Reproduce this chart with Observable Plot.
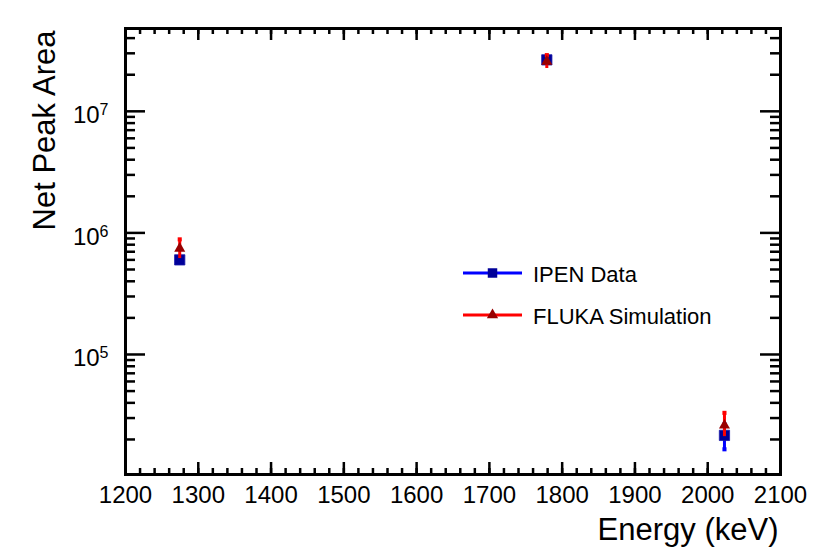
<!DOCTYPE html>
<html><head><meta charset="utf-8">
<script src="https://cdn.jsdelivr.net/npm/d3@7"></script>
<script src="https://cdn.jsdelivr.net/npm/@observablehq/plot@0.6"></script>
<style>
body{margin:0;background:#fff;font-family:"Liberation Sans",Arial,sans-serif;}
#wrap{position:relative;width:822px;height:560px;}
</style></head><body><div id="wrap"></div>
<script>
// ---- data ----
const energy = [1274.5, 1778.9, 2023];
const ipenArea = [6.0e5, 2.65e7, 2.16e4];
const ipenErr = [2.0e4, 8.0e5, 5.0e3];
const flukaArea = [7.45e5, 2.57e7, 2.61e4];
const flukaErrLow = [1.3e5, 3.2e6, 5.0e3];
const flukaErrHigh = [1.4e5, 3.3e6, 7.0e3];
const seriesNames = ["IPEN Data", "FLUKA Simulation"];
const xTickLabels = [1200, 1300, 1400, 1500, 1600, 1700, 1800, 1900, 2000, 2100];
const yTickLabels = [1e5, 1e6, 1e7];
const xTitle = "Energy (keV)";
const yTitle = "Net Peak Area";

// ---- layout ----
const W = 822, H = 560;
const mL = 125, mR = 42, mT = 28, mB = 86;
const pw = W - mL - mR, ph = H - mT - mB;
const yDomain = [1.03e4, 4.8e7];
const xMinor = d3.range(1200, 2101, 20);
const yMinor = [];
for (let e = 4; e <= 7; e++) for (let m = 2; m <= 9; m++) {
  const v = m * 10 ** e; if (v >= yDomain[0] && v <= yDomain[1]) yMinor.push(v);
}
const idx = energy.map((_, i) => i);
const font = "Liberation Sans, Arial, Helvetica, sans-serif";
const tw = 2.5;

const chart = Plot.plot({
  width: W, height: H,
  marginLeft: mL, marginRight: mR, marginTop: mT, marginBottom: mB,
  style: {fontFamily: font, background: "white", color: "black"},
  x: {domain: [1200, 2100]},
  y: {type: "log", domain: yDomain},
  marks: [
    // tick marks (inward, ROOT style)
    Plot.tickX(xTickLabels, {x: d => d, stroke: "black", strokeWidth: tw, insetTop: ph - 12}),
    Plot.tickX(xMinor, {x: d => d, stroke: "black", strokeWidth: tw, insetTop: ph - 6}),
    Plot.tickX(xTickLabels, {x: d => d, stroke: "black", strokeWidth: tw, insetBottom: ph - 12}),
    Plot.tickX(xMinor, {x: d => d, stroke: "black", strokeWidth: tw, insetBottom: ph - 6}),
    Plot.tickY(yTickLabels, {y: d => d, stroke: "black", strokeWidth: tw, insetRight: pw - 20}),
    Plot.tickY(yMinor, {y: d => d, stroke: "black", strokeWidth: tw, insetRight: pw - 10}),
    Plot.tickY(yTickLabels, {y: d => d, stroke: "black", strokeWidth: tw, insetLeft: pw - 20}),
    Plot.tickY(yMinor, {y: d => d, stroke: "black", strokeWidth: tw, insetLeft: pw - 10}),
    Plot.axisX({ticks: xTickLabels, tickSize: 0, tickPadding: 11, fontSize: 24, tickFormat: d3.format("d"), label: null}),
    Plot.axisY({ticks: yTickLabels, tickSize: 0, tickPadding: 17, fontSize: 24, dy: 4, tickFormat: d => "10^" + Math.round(Math.log10(d)), label: null}),
    Plot.frame({stroke: "black", strokeWidth: 3}),
    // axis titles
    Plot.text([xTitle], {text: d => d, frameAnchor: "bottom-right", textAnchor: "end", fontSize: 31, dx: -2, dy: 65}),
    Plot.text([yTitle], {text: d => d, frameAnchor: "top-left", textAnchor: "end", rotate: -90, fontSize: 31, dx: -93, dy: 2}),
    // IPEN data
    Plot.ruleX(idx, {x: i => energy[i], y1: i => ipenArea[i] - ipenErr[i], y2: i => ipenArea[i] + ipenErr[i], stroke: "#0000ff", strokeWidth: 3}),
    Plot.dot(idx, {x: i => energy[i], y: i => ipenArea[i] - ipenErr[i], symbol: "square", r: 2.3, fill: "#0000ff"}),
    Plot.dot(idx, {x: i => energy[i], y: i => ipenArea[i] + ipenErr[i], symbol: "square", r: 2.3, fill: "#0000ff"}),
    Plot.dot(idx, {x: i => energy[i], y: i => ipenArea[i], symbol: "square", r: 5.8, fill: "#000099", stroke: "#1a1aaa", strokeWidth: 0.8}),
    // FLUKA simulation
    Plot.ruleX(idx, {x: i => energy[i], y1: i => flukaArea[i] - flukaErrLow[i], y2: i => flukaArea[i] + flukaErrHigh[i], stroke: "#ff0000", strokeWidth: 3}),
    Plot.dot(idx, {x: i => energy[i], y: i => flukaArea[i] + flukaErrHigh[i], symbol: "square", r: 2.3, fill: "#ff0000"}),
    Plot.dot(idx, {x: i => energy[i], y: i => flukaArea[i], symbol: "triangle", r: 4.1, fill: "#990000"})
  ]
});

// superscript exponents on y tick labels
d3.select(chart).selectAll('g[aria-label="y-axis tick label"] text').each(function() {
  const t = d3.select(this);
  const exp = t.text().split("^")[1];
  t.text("10");
  t.append("tspan").attr("dy", "-0.5em").attr("font-size", 16).text(exp);
});

// legend
const svg = d3.select(chart);
const lg = svg.append("g").attr("font-family", font).attr("font-size", 22).attr("text-anchor", "start");
const entries = [
  {name: seriesNames[0], line: "#0000ff", mark: "#000099", sym: d3.symbolSquare, size: 90, y: 273},
  {name: seriesNames[1], line: "#ff0000", mark: "#990000", sym: d3.symbolTriangle, size: 55, y: 315}
];
entries.forEach(e => {
  lg.append("line").attr("x1", 463).attr("x2", 522).attr("y1", e.y).attr("y2", e.y)
    .attr("stroke", e.line).attr("stroke-width", 3);
  lg.append("path").attr("d", d3.symbol(e.sym, e.size)()).attr("transform", `translate(492.5,${e.y})`).attr("fill", e.mark);
  lg.append("text").attr("x", 533).attr("y", e.y + 8.5).attr("fill", "black").text(e.name);
});

document.getElementById("wrap").appendChild(chart);
</script></body></html>
